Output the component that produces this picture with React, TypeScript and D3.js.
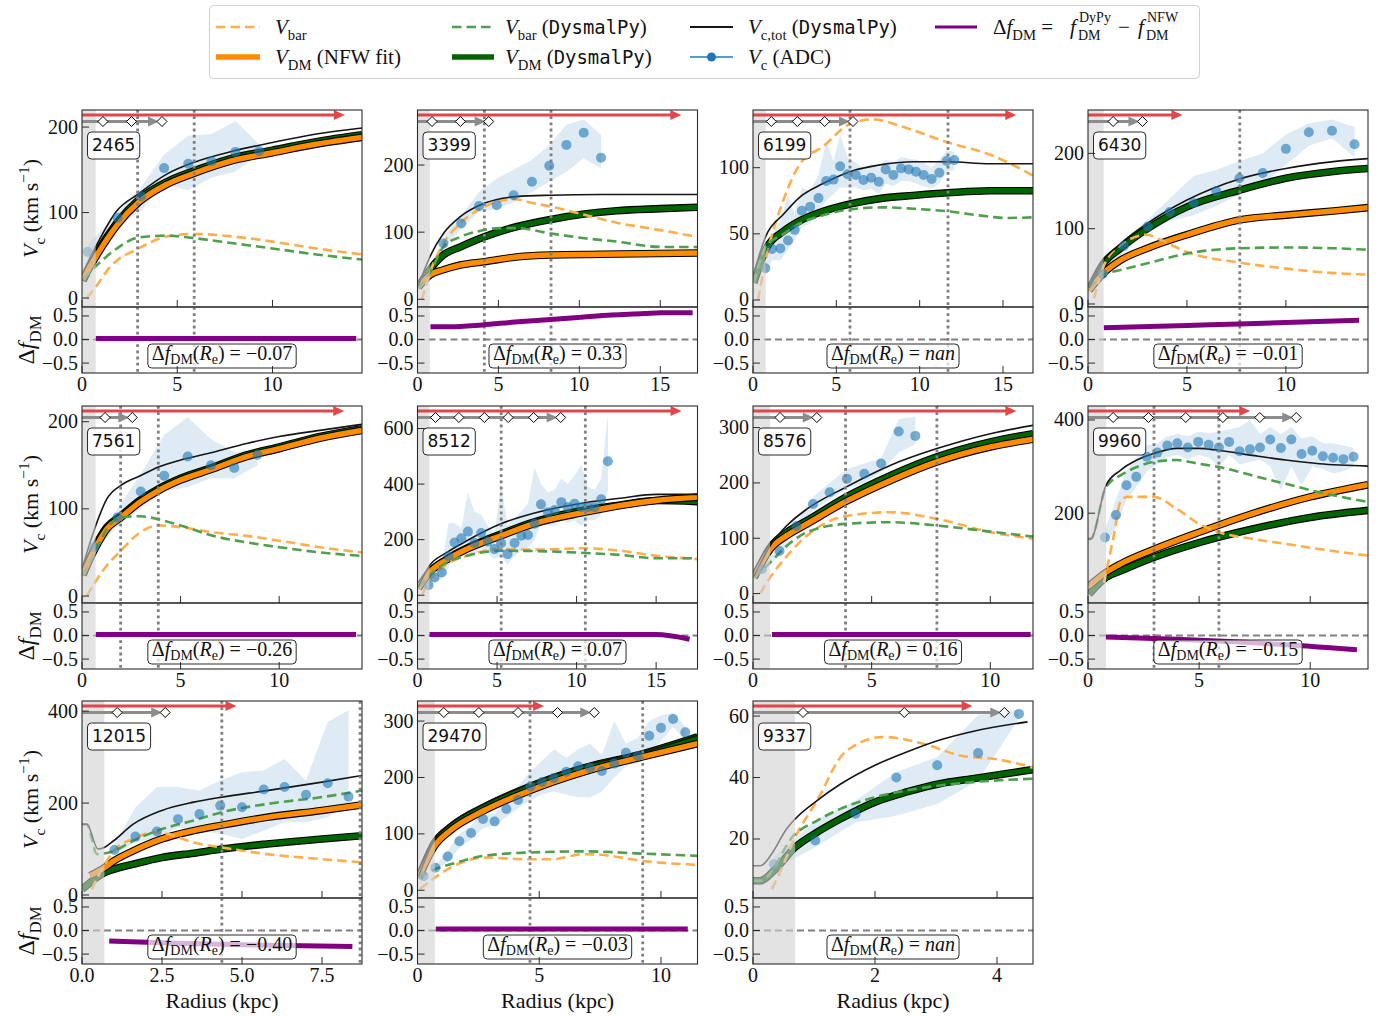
import React, { useRef, useLayoutEffect, useState } from "react";
import * as d3 from "d3";

// ---------------- DATA ----------------
const GALAXIES = ["2465", "3399", "6199", "6430", "7561", "8512", "8576", "9960", "12015", "29470", "9337"];
const X_MAX = [14.7, 17.3, 16.8, 14.15, 14.2, 17.6, 11.8, 12.6, 8.75, 11.5, 4.59];
const Y_MIN = [-10.5, -11.5, -5.3, -4, -8, -28, -17, 7.3, -6.5, -13.7, 0.8];
const Y_MAX = [220, 282, 143.6, 257.6, 218, 681, 339, 430, 422, 335.6, 64.9];
const Y_TICKS = [[0, 100, 200], [0, 100, 200], [0, 50, 100], [0, 100, 200], [0, 100, 200], [0, 200, 400, 600], [0, 100, 200, 300], [200, 400], [0, 200, 400], [0, 100, 200, 300], [20, 40, 60]];
const X_TICKS = [[0, 5, 10], [0, 5, 10, 15], [0, 5, 10, 15], [0, 5, 10], [0, 5, 10], [0, 5, 10, 15], [0, 5, 10], [0, 5, 10], [0, 2.5, 5, 7.5], [0, 5, 10], [0, 2, 4]];
const DF_DOMAIN = [-0.71, 0.69];
const DF_TICKS = [0.5, 0, -0.5];
const SHADE_R = [0.72, 0.76, 0.76, 0.79, 0.69, 0.75, 0.72, 0.81, 0.7, 0.71, 0.69];
const RE_LINES = [[2.92, 5.89], [4.13, 8.25], [5.82, 11.7], [7.67], [1.96, 3.87], [5.26, 10.55], [3.9, 7.75], [2.97, 5.89], [4.37, 8.69], [4.62, 9.25], []];
const RED_END = [13.8, 16.3, 15.8, 4.77, 13.3, 16.6, 11.1, 7.3, 4.83, 5.2, 3.6];
const DIAMONDS = [
  [1.1, 2.6, 4.2],
  [0.9, 2.65, 4.4],
  [1.1, 2.66, 4.3, 6.0],
  [1.27, 2.75],
  [1.17, 2.55],
  [1.13, 2.6, 4.2, 5.7, 7.3, 9.0],
  [1.14, 2.69],
  [1.13, 2.72, 4.4, 6.07, 7.73, 9.37],
  [1.1, 2.6],
  [1.08, 2.52, 4.13, 5.75, 7.26],
  [0.82, 2.48, 4.12],
];
const DELTA_TXT = ["−0.07", "0.33", "nan", "−0.01", "−0.26", "0.07", "0.16", "−0.15", "−0.40", "−0.03", "nan"];

// V_bar (orange dashed)
const VBAR = [
  [[0.25, 0], [0.72, 13], [1.5, 37], [2.97, 58], [4.45, 72], [5.9, 75], [7.94, 72], [10, 66], [12.3, 58], [14.7, 51]],
  [[0.27, 0], [0.76, 39], [1.6, 83], [2.64, 113], [4.12, 138], [5.94, 149], [7.2, 143], [8.25, 138], [10.3, 126], [12.3, 114], [15, 103], [17.3, 93]],
  [[0.3, 0], [0.76, 30], [1.84, 76], [2.83, 103], [4.2, 116], [5.82, 133], [7.2, 136.5], [9.2, 130], [11.7, 119], [14.2, 110], [16.8, 94]],
  [[0.3, 7.5], [0.79, 50], [1.64, 78], [3, 92], [3.6, 86], [5, 69], [7.65, 55], [10, 47], [12.4, 41], [14.15, 39]],
  [[0.25, 0], [0.7, 17], [1.26, 35], [1.97, 52], [2.95, 73], [3.88, 81], [5, 79], [6.66, 73], [8.35, 69], [10, 63.5], [12.06, 56], [14.2, 50]],
  [[0.3, 4], [0.75, 52], [1.85, 112], [3.1, 142], [5.24, 166], [7.3, 164], [10.55, 169], [12.75, 160], [15, 142], [17.6, 130]],
  [[0.3, 0], [0.72, 29], [1.43, 68], [2.28, 105], [3.9, 140], [5.8, 147], [7.75, 135], [10, 111], [11.8, 99]],
  [[0.72, 51], [1.16, 152], [1.46, 224], [1.76, 235], [2.95, 235], [4, 209], [5, 177], [5.9, 159], [7.4, 145], [8.9, 134], [10.4, 123], [12.6, 109]],
  [[0.3, 12], [0.71, 67], [1.09, 103], [1.6, 122], [2.24, 136], [2.66, 133], [3.49, 114], [4.37, 103.5], [5.78, 89], [7.5, 78], [8.75, 71]],
  [[0.1, 2], [0.71, 22.5], [1.35, 40], [2.72, 58], [4.62, 55], [5.5, 55], [6.84, 64], [7.5, 63], [9.24, 52], [11.5, 45]],
  [[0.31, 3.7], [0.5, 11.8], [0.69, 20.5], [1.05, 32.5], [1.51, 48.3], [2.14, 53.2], [2.79, 51], [3.39, 47.2], [4.04, 45.8], [4.59, 43.2]],
];
// V_bar DysmalPy (green dashed)
const VBAR_DYS = [
  [[0.05, 22], [0.72, 37], [1.83, 58], [2.97, 71], [4.45, 73], [5.9, 70], [7.94, 64], [10, 58], [12.3, 51], [14.7, 45]],
  [[0.05, 16], [0.76, 39], [1.6, 78], [2.64, 93], [3.7, 101], [5.1, 106], [6.1, 106], [8.25, 98], [10.3, 91], [12.3, 86], [15, 78], [17.3, 78]],
  [[0.05, 13], [0.76, 40], [1.84, 50], [2.83, 58], [4.2, 64], [5.82, 68.5], [7.8, 70], [9.6, 69], [11.7, 67], [14.2, 63], [15.2, 62], [16.8, 62.5]],
  [[0.05, 21], [0.79, 38.5], [1.64, 45], [3, 54], [5, 67], [7.65, 74], [10, 75], [12.4, 74], [14.15, 72]],
  [[0.05, 23], [0.7, 52], [1.26, 77], [1.97, 90], [2.95, 91.5], [3.88, 88], [5, 81], [6.66, 69], [8.35, 61.5], [10, 56], [12.06, 50], [14.2, 46]],
  [[0.05, 28], [0.75, 70], [1.85, 118], [3.1, 142], [5.24, 160], [7.3, 159], [10.55, 152], [12.75, 145], [15, 133], [17.6, 133]],
  [[0.05, 29], [0.72, 56], [1.43, 86.5], [2.28, 111], [3.9, 126], [5.8, 129], [7.75, 123], [10, 112], [11.8, 103]],
  [[0, 145], [0.12, 145], [0.81, 256], [1.46, 281], [2.2, 299], [2.95, 310], [4, 314], [5, 306], [5.9, 299], [7.4, 281], [8.9, 263], [10.4, 245], [12.6, 224]],
  [[0, 154], [0.15, 154], [0.47, 89], [0.99, 96], [1.6, 118], [2.5, 143.5], [3.49, 162], [4.37, 180], [5.78, 198], [7.5, 213], [8.75, 227]],
  [[0.05, 22.5], [0.71, 37], [1.35, 46], [2.72, 61], [4.62, 67], [6.84, 69], [9.24, 65], [11.5, 61]],
  [[0, 6.4], [0.12, 6.4], [0.69, 21.6], [1.05, 26], [1.43, 29.8], [2, 33.6], [2.52, 35.8], [3.06, 37.4], [3.6, 38.5], [4.59, 39.6]],
];
// V_c,tot DysmalPy (black)
const VTOT = [
  [[0.05, 30], [0.72, 60], [1.83, 102], [2.97, 122], [4.45, 145], [5.9, 159], [7.94, 172], [10, 182], [12.3, 192], [14.7, 199]],
  [[0.05, 20], [0.76, 63], [1.6, 98], [2.64, 123], [4.12, 143], [6.1, 153], [8.25, 155], [11.3, 156], [17.3, 156]],
  [[0.05, 20], [0.76, 48], [1.84, 65], [2.83, 78], [4.2, 88], [5.82, 97], [7.8, 102.5], [9.6, 104.5], [11.7, 104.5], [14.2, 103], [16.8, 103]],
  [[0.05, 21], [0.79, 58], [1.64, 80], [3, 107], [5, 138], [7.65, 166], [10, 180], [12.4, 189], [14.15, 193]],
  [[0.05, 35], [0.7, 81], [1.26, 111.5], [1.97, 127], [2.95, 138], [3.88, 148], [5, 156], [6.66, 165], [8.35, 175], [10, 183], [12.06, 190], [14.2, 197]],
  [[0.05, 30], [0.75, 106], [1.85, 154], [3.1, 196], [5.24, 257], [7.3, 295], [10.55, 333], [12.75, 349], [15, 363], [17.6, 363]],
  [[0.05, 32], [0.72, 86.5], [1.43, 123], [2.28, 153], [3.9, 192], [5.8, 232], [7.75, 262], [10, 289], [11.8, 304]],
  [[0, 145], [0.12, 145], [0.81, 260], [1.46, 292], [2.2, 314], [2.95, 328], [4, 339], [5, 339], [5.85, 335], [7.4, 324], [8.9, 314], [10.4, 306], [12.6, 301]],
  [[0, 154], [0.15, 154], [0.5, 100], [0.71, 104], [0.99, 118], [1.6, 154], [2.5, 184], [3.49, 202], [4.37, 213], [5.78, 227], [7.5, 245.5], [8.75, 260]],
  [[0.05, 25.5], [0.71, 91], [1.35, 118], [2.72, 153], [4.62, 189], [6.84, 222], [9.24, 245], [11.5, 275]],
  [[0, 11.3], [0.12, 11.3], [0.34, 16.2], [0.53, 22.7], [0.69, 26.5], [1.05, 32.5], [1.43, 37.8], [2, 44], [2.52, 48.3], [3.06, 52.2], [3.6, 55], [4.5, 58.1]],
];
// V_DM NFW fit (orange thick)
const VDM_NFW = [
  [[0.05, 22], [0.72, 48], [1.83, 85], [2.97, 112], [4.45, 133], [5.9, 146], [7.94, 161], [10, 170], [12.3, 180], [14.7, 188]],
  [[0.05, 18], [0.76, 36], [1.6, 44], [2.64, 51], [4.12, 56], [6.1, 63], [8.25, 66], [11.3, 67], [17.3, 69]],
  null,
  [[0.05, 18], [0.79, 41], [1.64, 58], [3, 74], [5, 92], [7.65, 111.5], [10, 118], [12.4, 123.5], [14.15, 128]],
  [[0.05, 25], [0.7, 56], [1.26, 77], [1.97, 90], [2.95, 108], [3.88, 121], [5, 133], [6.66, 146], [8.35, 160], [10, 169], [12.06, 181], [14.2, 190]],
  [[0.05, 25], [0.75, 82], [1.85, 128], [3.1, 166], [5.24, 214], [7.3, 257], [10.55, 299], [12.75, 323], [15, 341], [17.6, 353]],
  [[0.05, 30], [0.72, 80], [1.43, 105], [2.28, 126], [3.9, 166], [5.8, 204.5], [7.75, 238], [10, 265], [11.8, 279]],
  [[0.05, 44], [0.81, 73], [1.46, 91], [2.95, 122], [5, 159], [7.4, 199], [10, 235], [12.6, 261]],
  [[0.25, 42], [0.71, 60], [0.99, 74], [1.6, 96], [2.5, 122], [3.49, 140], [4.37, 152], [5.78, 169], [7.5, 184], [8.75, 196]],
  [[0.05, 22], [0.71, 79], [1.35, 106], [2.72, 141], [4.62, 177], [6.84, 210], [9.24, 236.5], [11.5, 260]],
  null,
];
// V_DM DysmalPy (green thick)
const VDM_DYS = [
  [[0.05, 20], [0.72, 50], [1.83, 88], [2.97, 115], [4.45, 136], [5.9, 149], [7.94, 164], [10, 173], [12.3, 183], [14.7, 191]],
  [[0.05, 18], [0.76, 44], [1.6, 66], [2.64, 78], [4.12, 93], [6.1, 108], [8.25, 119], [10.3, 127], [12.3, 132], [15, 135], [17.3, 137]],
  [[0.05, 13], [0.76, 38], [1.84, 52], [2.83, 60], [4.2, 67], [5.82, 72.5], [7.8, 77], [9.6, 79], [11.7, 81], [14.2, 82.6], [16.8, 82.6]],
  [[0.05, 18], [0.79, 54], [1.64, 74], [3, 100], [5, 129], [7.65, 151], [10, 167], [12.4, 176], [14.15, 180]],
  [[0.05, 24], [0.7, 58], [1.26, 79], [1.97, 92], [2.95, 110], [3.88, 123], [5, 135], [6.66, 148], [8.35, 162], [10, 171], [12.06, 183], [14.2, 192]],
  [[0.05, 25], [0.75, 82], [1.85, 130], [3.1, 169], [5.24, 220], [7.3, 263], [10.55, 307], [12.75, 325], [15, 341], [17.6, 337]],
  [[0.05, 29], [0.72, 83], [1.43, 111], [2.28, 132], [3.9, 174], [5.8, 213.5], [7.75, 247], [10, 274], [11.8, 289]],
  [[0.05, 26], [0.81, 62], [1.46, 76], [2.95, 105], [5, 137], [7.4, 166], [10, 191], [12.6, 206]],
  [[0, 12], [0.71, 49], [0.99, 56], [1.6, 67], [2.5, 81.6], [3.49, 91], [4.37, 100], [5.78, 111], [7.5, 122], [8.75, 129]],
  [[0.05, 22], [0.71, 85], [1.35, 112], [2.72, 147], [4.62, 184], [6.84, 217], [9.24, 242], [11.5, 272]],
  [[0, 6.4], [0.12, 6.4], [0.34, 9.6], [0.69, 17.3], [1.05, 22.2], [1.43, 26.5], [2, 32], [2.52, 35.3], [3.06, 38], [3.6, 39.6], [4.59, 42.6]],
];
// V_c ADC points
const ADC = [
  [[0.3, 54], [1.87, 94], [3.1, 119], [4.31, 152], [5.58, 157], [6.8, 160], [8.06, 171], [9.3, 172]],
  [[1.6, 83], [2.7, 113], [3.8, 139], [4.9, 140], [5.94, 155], [7.07, 175], [8.14, 199], [9.2, 230], [10.27, 248], [11.34, 211]],
  [[0.74, 24], [1.14, 38.5], [1.64, 39], [2.1, 45], [2.5, 53], [2.93, 67.5], [3.43, 70.5], [3.93, 77], [4.39, 90], [4.83, 91], [5.23, 101], [5.67, 95], [6.17, 94.5], [6.63, 90.7], [7.09, 92.4], [7.55, 89.4], [7.96, 98.7], [8.42, 94.5], [8.88, 99.5], [9.34, 98.7], [9.78, 97], [10.24, 94.5], [10.72, 91.4], [11.18, 96.2], [11.62, 105], [12.08, 105.8]],
  [[0.75, 40], [1.81, 77], [3.02, 103], [4.13, 122], [5.34, 134], [6.48, 150], [7.65, 167], [8.83, 174], [10, 206], [11.16, 228], [12.33, 230], [13.47, 212]],
  [[0.6, 56], [1.8, 90], [2.98, 120], [4.17, 138], [5.36, 160], [6.54, 150], [7.72, 147], [8.9, 162]],
  [[0.69, 36], [1.07, 64], [1.53, 82], [1.95, 140], [2.33, 190], [2.75, 205], [3.17, 229], [3.58, 188], [4, 224], [4.42, 193], [4.84, 166], [5.26, 187], [5.66, 148], [6.1, 188], [6.52, 214], [6.94, 217], [7.36, 257], [7.76, 327], [8.2, 299], [8.62, 307], [9.04, 335], [9.45, 317], [9.87, 329], [10.3, 317], [10.71, 317], [11.13, 317], [11.55, 345], [11.97, 482]],
  [[0.38, 44], [1.12, 77], [1.83, 122], [2.53, 162], [3.23, 183], [3.96, 207.5], [4.69, 216.5], [5.4, 235], [6.14, 293], [6.84, 285]],
  [[0.76, 148], [1.26, 196], [1.73, 260], [2.17, 278], [2.65, 321], [3.12, 330], [3.57, 345], [4.02, 350], [4.49, 341], [4.96, 353], [5.43, 347], [5.89, 341], [6.35, 353], [6.82, 333], [7.29, 337], [7.74, 341], [8.2, 358], [8.68, 340], [9.15, 358], [9.61, 327], [10.09, 334], [10.57, 322], [11.03, 319], [11.49, 316], [11.95, 321]],
  [[1.01, 98], [1.67, 127], [2.34, 138], [3, 165], [3.67, 176], [4.32, 194.5], [5, 191], [5.68, 229.5], [6.33, 235], [7, 218], [7.68, 243], [8.33, 214]],
  [[0.25, 25], [0.73, 40], [1.24, 60], [1.72, 87], [2.2, 101.6], [2.69, 126.5], [3.17, 122], [3.65, 144], [4.13, 160], [4.64, 184], [5.12, 192], [5.6, 199], [6.11, 210], [6.6, 220], [7.09, 217], [7.57, 211.5], [8.08, 224.6], [8.56, 244], [9.04, 238], [9.52, 274], [10, 288], [10.5, 303.6], [11, 280]],
  [[0.34, 11.8], [1.02, 19.5], [1.68, 28.2], [2.35, 40], [3.02, 44], [3.69, 48], [4.36, 60.7]],
];
// ADC uncertainty band: [r, low, high]
const ADC_BAND = [
  [[0.3, 45, 62], [1.87, 85, 100], [3.1, 102, 130], [4.31, 133, 168], [5.58, 126, 190], [6.8, 141, 192], [8.06, 148, 207], [9.3, 168, 180]],
  [[1.6, 75, 95], [2.7, 105, 125], [3.8, 130, 160], [4.9, 135, 180], [5.94, 145, 193], [7.07, 160, 208], [8.14, 175, 230], [9.2, 190, 260], [10.27, 210, 268], [11.34, 195, 245]],
  [[0.74, 18, 30], [1.14, 30, 50], [1.64, 30, 60], [2.1, 38, 80], [2.5, 45, 65], [2.93, 55, 85], [3.43, 58, 82], [3.93, 65, 95], [4.39, 75, 120], [4.83, 80, 105], [5.23, 85, 125], [5.67, 85, 108], [6.17, 85, 104], [6.63, 83, 100], [7.09, 84, 103], [7.55, 80, 100], [7.96, 88, 106], [8.42, 86, 104], [8.88, 90, 108], [9.34, 90, 107], [9.78, 88, 106], [10.24, 86, 104], [10.72, 84, 100], [11.18, 88, 106], [11.62, 97, 113], [12.08, 98, 112]],
  [[0.75, 35, 48], [1.81, 70, 85], [3.02, 95, 112], [4.13, 110, 140], [5.34, 118, 170], [6.48, 130, 178], [7.65, 145, 190], [8.83, 158, 200], [10, 185, 225], [11.16, 210, 240], [12.33, 220, 245], [13.47, 195, 235]],
  [[0.6, 50, 62], [1.8, 80, 100], [2.98, 100, 140], [4.17, 120, 185], [5.36, 125, 205], [6.54, 135, 180], [7.72, 135, 165], [8.9, 150, 168]],
  [[0.69, 20, 55], [1.07, 45, 90], [1.53, 60, 110], [1.95, 100, 260], [2.33, 150, 260], [2.75, 160, 240], [3.17, 170, 370], [3.58, 140, 300], [4, 170, 290], [4.42, 150, 250], [4.84, 130, 220], [5.26, 140, 400], [5.66, 110, 250], [6.1, 140, 280], [6.52, 160, 300], [6.94, 170, 330], [7.36, 200, 460], [7.76, 260, 400], [8.2, 250, 370], [8.62, 250, 380], [9.04, 270, 420], [9.45, 260, 400], [9.87, 270, 430], [10.3, 250, 470], [10.71, 270, 390], [11.13, 270, 380], [11.55, 290, 420], [11.97, 380, 650]],
  [[0.38, 38, 50], [1.12, 70, 85], [1.83, 110, 130], [2.53, 150, 175], [3.23, 170, 200], [3.96, 190, 225], [4.69, 200, 235], [5.4, 220, 245], [6.14, 255, 315], [6.84, 270, 320]],
  [[0.76, 130, 165], [1.26, 170, 230], [1.73, 230, 290], [2.17, 255, 320], [2.65, 290, 345], [3.12, 305, 350], [3.57, 320, 365], [4.02, 325, 370], [4.49, 315, 365], [4.96, 325, 375], [5.43, 320, 372], [5.89, 300, 375], [6.35, 325, 380], [6.82, 305, 385], [7.29, 310, 400], [7.74, 315, 370], [8.2, 300, 385], [8.68, 250, 370], [9.15, 300, 385], [9.61, 260, 360], [10.09, 300, 365], [10.57, 295, 350], [11.03, 285, 350], [11.49, 290, 345], [11.95, 300, 340]],
  [[1.01, 89, 110], [1.67, 114, 191], [2.34, 125, 235], [3, 147, 235], [3.67, 140, 227], [4.32, 133, 249], [5, 122, 267], [5.68, 140, 271], [6.33, 158, 296], [7, 158, 249], [7.68, 169, 377], [8.33, 198, 402]],
  [[0.73, 35, 45], [1.24, 50, 70], [1.72, 75, 100], [2.2, 90, 115], [2.69, 110, 140], [3.17, 115, 135], [3.65, 130, 165], [4.13, 145, 185], [4.64, 160, 210], [5.12, 170, 230], [5.6, 175, 250], [6.11, 170, 235], [6.6, 165, 250], [7.09, 165, 260], [7.57, 175, 240], [8.08, 200, 300], [8.56, 220, 260], [9.04, 225, 270], [9.52, 240, 300], [10, 265, 310], [10.5, 290, 315], [11, 265, 290]],
  [[0.34, 10, 14], [1.02, 17.3, 26], [1.68, 25.4, 32.5], [2.35, 27.6, 41.8], [3.02, 31.4, 46.7], [3.69, 39, 60.3], [4.36, 59.2, 62]],
];
// Delta f_DM (purple)
const DFDM = [
  [[0.72, 0.02], [14.4, 0.02]],
  [[0.8, 0.27], [2, 0.27], [4, 0.31], [6, 0.37], [8, 0.42], [10, 0.47], [12, 0.52], [14, 0.55], [15, 0.57], [17, 0.57]],
  null,
  [[0.8, 0.25], [5, 0.3], [7.6, 0.33], [10, 0.36], [13.7, 0.41]],
  [[0.7, 0.02], [13.9, 0.02]],
  [[0.75, 0.02], [15, 0.02], [17.1, -0.08]],
  [[0.8, 0.02], [11.7, 0.02]],
  [[0.8, -0.03], [4, -0.08], [8, -0.17], [12.1, -0.3]],
  [[0.85, -0.22], [3, -0.27], [5, -0.3], [8.45, -0.34]],
  [[0.75, 0.03], [11.1, 0.03]],
  null,
];

// ---------------- STYLE / LAYOUT ----------------
const SERIF = "'Liberation Serif','DejaVu Serif',serif";
const SANS = "'DejaVu Sans','Liberation Sans',sans-serif";
const MONO = "'DejaVu Sans Mono','Liberation Mono',monospace";
const C_VBAR = "#ffae4c";
const C_VBAR_D = "#4e9f4e";
const C_NFW = "#ff8c00";
const C_DYS = "#006400";
const C_TOT = "#151515";
const C_BLUE = "#1f77b4";
const C_DF = "#800080";
const C_RED = "#e0474b";
const C_GARROW = "#8c8c8c";
const COL_X = [82, 417.5, 753, 1088];
const ROW_Y = [110, 406, 701];
const PW = 280;
const TOP_H = 197;
const BOT_H = 66;

type Seg = [string, string?];

function MathT({ segs, fs, sub = 0.3 }: { segs: Seg[]; fs: number; sub?: number }) {
  let cur = 0;
  return (
    <>
      {segs.map(([t, k = ""], j) => {
        const isSub = k.includes("s");
        const isSup = k.includes("S");
        const target = isSub ? fs * sub : isSup ? -fs * 0.4 : 0;
        const dy = target - cur;
        cur = target;
        const mono = k.includes("m");
        return (
          <tspan
            key={j}
            dy={dy}
            fontSize={isSub || isSup ? fs * 0.7 : mono ? fs * 0.9 : fs}
            fontStyle={k.includes("i") ? "italic" : "normal"}
            fontFamily={mono ? MONO : undefined}
          >
            {t}
          </tspan>
        );
      })}
    </>
  );
}

function BoxedText({ x, cy, h, anchor, fs, family, padX, fillOpacity, base = 0.33, children }: any) {
  const ref = useRef<SVGTextElement>(null);
  const [bb, setBb] = useState<{ x: number; w: number } | null>(null);
  useLayoutEffect(() => {
    if (ref.current) {
      const b = ref.current.getBBox();
      setBb({ x: b.x, w: b.width });
    }
  }, []);
  return (
    <g>
      {bb && (
        <rect x={bb.x - padX} y={cy - h / 2} width={bb.w + 2 * padX} height={h} rx={4}
          fill="#fff" fillOpacity={fillOpacity} stroke="#2a2a2a" strokeWidth={1} />
      )}
      <text ref={ref} x={x} y={cy + fs * base} textAnchor={anchor} fontSize={fs} fontFamily={family} fill="#111">
        {children}
      </text>
    </g>
  );
}

function Panel({ i }: { i: number }) {
  const col = i % 4, row = Math.floor(i / 4);
  const x0 = COL_X[col], y0 = ROW_Y[row];
  const yDiv = y0 + TOP_H, yBot = y0 + TOP_H + BOT_H;
  const x = d3.scaleLinear().domain([0, X_MAX[i]]).range([x0, x0 + PW]);
  const y = d3.scaleLinear().domain([Y_MIN[i], Y_MAX[i]]).range([yDiv, y0]);
  const yb = d3.scaleLinear().domain(DF_DOMAIN).range([yBot, yDiv]);
  const line = d3.line<number[]>().x(d => x(d[0])).y(d => y(d[1])).curve(d3.curveMonotoneX);
  const lineB = d3.line<number[]>().x(d => x(d[0])).y(d => yb(d[1])).curve(d3.curveMonotoneX);
  const area = d3.area<number[]>().x(d => x(d[0])).y0(d => y(d[1])).y1(d => y(d[2]));
  const ct = `ct${i}`, cb = `cb${i}`;
  const shadeW = x(SHADE_R[i]) - x0;
  const xTickFmt = X_TICKS[i].some(v => v % 1 !== 0) ? (v: number) => v.toFixed(1) : (v: number) => String(v);

  const thick = (data: number[][] | null, color: string) =>
    data ? (
      <g>
        <path d={line(data)!} fill="none" stroke="#000" strokeWidth={7.6} strokeLinecap="butt" />
        <path d={line(data)!} fill="none" stroke={color} strokeWidth={5.4} strokeLinecap="butt" />
      </g>
    ) : null;

  const redEnd = x(RED_END[i]);
  const ry = y0 + 5;
  const gy = y0 + 11.5;
  const dms = DIAMONDS[i];
  const gEnd = x(dms[dms.length - 1]) - 3;
  const dotted = { stroke: "#7f7f7f", strokeWidth: 2.8, strokeDasharray: "2.8,3.4" };

  return (
    <g>
      <defs>
        <clipPath id={ct}><rect x={x0} y={y0} width={PW} height={TOP_H} /></clipPath>
        <clipPath id={cb}><rect x={x0} y={yDiv} width={PW} height={BOT_H} /></clipPath>
      </defs>
      {/* ---- top panel ---- */}
      <g clipPath={`url(#${ct})`}>
        <path d={area(ADC_BAND[i])!} fill={C_BLUE} fillOpacity={0.15} />
        {thick(VDM_DYS[i], C_DYS)}
        {thick(VDM_NFW[i], C_NFW)}
        <path d={line(VBAR[i])!} fill="none" stroke={C_VBAR} strokeWidth={2.6} strokeDasharray="9.5,5" />
        <path d={line(VBAR_DYS[i])!} fill="none" stroke={C_VBAR_D} strokeWidth={2.6} strokeDasharray="9.5,5" />
        <path d={line(VTOT[i])!} fill="none" stroke={C_TOT} strokeWidth={1.6} />
        {ADC[i].map((p, j) => (
          <circle key={j} cx={x(p[0])} cy={y(p[1])} r={5} fill={C_BLUE} fillOpacity={0.6} />
        ))}
        <rect x={x0} y={y0} width={shadeW} height={TOP_H} fill="#d0d0d0" fillOpacity={0.6} />
        {RE_LINES[i].map((r, j) => (
          <line key={j} x1={x(r)} x2={x(r)} y1={y0} y2={yDiv} {...dotted} />
        ))}
      </g>
      {/* arrows */}
      <line x1={x0} x2={redEnd - 9} y1={ry} y2={ry} stroke={C_RED} strokeWidth={3} />
      <path d={`M${redEnd},${ry} L${redEnd - 11},${ry - 5} L${redEnd - 11},${ry + 5} Z`} fill={C_RED} />
      <line x1={x0} x2={gEnd - 9} y1={gy} y2={gy} stroke={C_GARROW} strokeWidth={3} />
      <path d={`M${gEnd},${gy} L${gEnd - 11},${gy - 5} L${gEnd - 11},${gy + 5} Z`} fill={C_GARROW} />
      {dms.map((r, j) => {
        const cx = x(r);
        return <path key={j} d={`M${cx},${gy - 5} L${cx + 5},${gy} L${cx},${gy + 5} L${cx - 5},${gy} Z`} fill="#fff" stroke="#000" strokeWidth={1} />;
      })}
      {/* galaxy id box */}
      <BoxedText x={x0 + 10} cy={y0 + 35.5} h={27} anchor="start" fs={17} family={SANS} padX={4.5} fillOpacity={0.85}>
        {GALAXIES[i]}
      </BoxedText>
      {/* top spines & ticks */}
      <rect x={x0} y={y0} width={PW} height={TOP_H} fill="none" stroke="#2b2b2b" strokeWidth={1.1} />
      {Y_TICKS[i].map(t => (
        <g key={t}>
          <line x1={x0} x2={x0 + 7} y1={y(t)} y2={y(t)} stroke="#2b2b2b" strokeWidth={1} />
          <text x={x0 - 4} y={y(t) + 6.5} textAnchor="end" fontSize={20} fill="#111">{t}</text>
        </g>
      ))}
      {X_TICKS[i].map(t => (
        <line key={t} x1={x(t)} x2={x(t)} y1={yDiv} y2={yDiv - 7} stroke="#2b2b2b" strokeWidth={1} />
      ))}
      {/* ---- bottom panel ---- */}
      <g clipPath={`url(#${cb})`}>
        <line x1={x0} x2={x0 + PW} y1={yb(0)} y2={yb(0)} stroke="#808080" strokeWidth={2} strokeDasharray="7,4" />
        {RE_LINES[i].map((r, j) => (
          <line key={j} x1={x(r)} x2={x(r)} y1={yDiv} y2={yBot} {...dotted} />
        ))}
        {DFDM[i] && <path d={lineB(DFDM[i]!)!} fill="none" stroke={C_DF} strokeWidth={5} />}
        <rect x={x0} y={yDiv} width={shadeW} height={BOT_H} fill="#d0d0d0" fillOpacity={0.6} />
      </g>
      <BoxedText x={x0 + PW / 2} cy={yDiv + 49} h={24} anchor="middle" fs={20} family={SERIF} padX={4} fillOpacity={0.7} base={0.22}>
        <MathT fs={20} sub={0.2} segs={[["Δ"], ["f", "i"], ["DM", "s"], ["("], ["R", "i"], ["e", "s"], [") = "], DELTA_TXT[i] === "nan" ? ["nan", "i"] : [DELTA_TXT[i]]]} />
      </BoxedText>
      <rect x={x0} y={yDiv} width={PW} height={BOT_H} fill="none" stroke="#2b2b2b" strokeWidth={1.1} />
      {DF_TICKS.map(t => (
        <g key={t}>
          <line x1={x0} x2={x0 + 7} y1={yb(t)} y2={yb(t)} stroke="#2b2b2b" strokeWidth={1} />
          <text x={x0 - 4} y={yb(t) + 6.5} textAnchor="end" fontSize={20} fill="#111">{t < 0 ? "−" + Math.abs(t).toFixed(1) : t.toFixed(1)}</text>
        </g>
      ))}
      {X_TICKS[i].map(t => (
        <g key={t}>
          <line x1={x(t)} x2={x(t)} y1={yBot} y2={yBot - 7} stroke="#2b2b2b" strokeWidth={1} />
          <text x={x(t)} y={yBot + 18} textAnchor="middle" fontSize={20} fill="#111">{xTickFmt(t)}</text>
        </g>
      ))}
      {/* axis labels */}
      {col === 0 && (
        <>
          <text transform={`translate(38,${(y0 + yDiv) / 2}) rotate(-90)`} textAnchor="middle" fontSize={22} fill="#111">
            <MathT fs={22} segs={[["V", "i"], ["c", "s"], [" (km s"], ["−1", "S"], [")"]]} />
          </text>
          <text transform={`translate(34,${(yDiv + yBot) / 2}) rotate(-90)`} textAnchor="middle" fontSize={24} fill="#111">
            <MathT fs={24} segs={[["Δ"], ["f", "i"], ["DM", "s"]]} />
          </text>
        </>
      )}
      {row === 2 && (
        <text x={x0 + PW / 2} y={yBot + 44} textAnchor="middle" fontSize={22} fill="#111">Radius (kpc)</text>
      )}
    </g>
  );
}

function Legend() {
  const r1 = 27, r2 = 57, fs = 21;
  const b1 = r1 + 7, b2 = r2 + 7;
  return (
    <g fontSize={fs} fill="#111">
      <rect x={209.5} y={5.5} width={990} height={73} rx={4} fill="#fff" stroke="#cfcfcf" strokeWidth={1} />
      {/* col 0 */}
      <line x1={216} x2={260} y1={r1} y2={r1} stroke={C_VBAR} strokeWidth={2.6} strokeDasharray="9.5,5" />
      <text x={275} y={b1}><MathT fs={fs} segs={[["V", "i"], ["bar", "s"]]} /></text>
      <line x1={216} x2={260} y1={r2} y2={r2} stroke={C_NFW} strokeWidth={5.5} />
      <text x={275} y={b2}><MathT fs={fs} segs={[["V", "i"], ["DM", "s"], [" (NFW fit)"]]} /></text>
      {/* col 1 */}
      <line x1={452} x2={494} y1={r1} y2={r1} stroke={C_VBAR_D} strokeWidth={2.6} strokeDasharray="9.5,5" />
      <text x={505} y={b1}><MathT fs={fs} segs={[["V", "i"], ["bar", "s"], [" ("], ["DysmalPy", "m"], [")"]]} /></text>
      <line x1={452} x2={494} y1={r2} y2={r2} stroke={C_DYS} strokeWidth={5.5} />
      <text x={505} y={b2}><MathT fs={fs} segs={[["V", "i"], ["DM", "s"], [" ("], ["DysmalPy", "m"], [")"]]} /></text>
      {/* col 2 */}
      <line x1={690} x2={733} y1={r1} y2={r1} stroke={C_TOT} strokeWidth={1.8} />
      <text x={748} y={b1}><MathT fs={fs} segs={[["V", "i"], ["c,tot", "s"], [" ("], ["DysmalPy", "m"], [")"]]} /></text>
      <line x1={690} x2={733} y1={r2} y2={r2} stroke={C_BLUE} strokeWidth={1.6} />
      <circle cx={711.5} cy={r2} r={4.5} fill={C_BLUE} />
      <text x={748} y={b2}><MathT fs={fs} segs={[["V", "i"], ["c", "s"], [" (ADC)"]]} /></text>
      {/* col 3 */}
      <line x1={935} x2={977} y1={r1} y2={r1} stroke={C_DF} strokeWidth={3} />
      <text x={993} y={b1}><MathT fs={fs} segs={[["Δ"], ["f", "i"], ["DM", "s"], [" ="]]} /></text>
      <text x={1070} y={b1} fontStyle="italic">f</text>
      <text x={1079} y={b1 - 12} fontSize={14}>DyPy</text>
      <text x={1078} y={b1 + 6} fontSize={14}>DM</text>
      <text x={1118} y={b1}>−</text>
      <text x={1138} y={b1} fontStyle="italic">f</text>
      <text x={1147} y={b1 - 12} fontSize={14}>NFW</text>
      <text x={1146} y={b1 + 6} fontSize={14}>DM</text>
    </g>
  );
}

export default function App() {
  return (
    <svg width={1386} height={1016} style={{ position: "absolute", left: 0, top: 0 }} fontFamily={SERIF}>
      <rect width={1386} height={1016} fill="#fff" />
      <Legend />
      {GALAXIES.map((g, i) => <Panel key={g} i={i} />)}
    </svg>
  );
}
